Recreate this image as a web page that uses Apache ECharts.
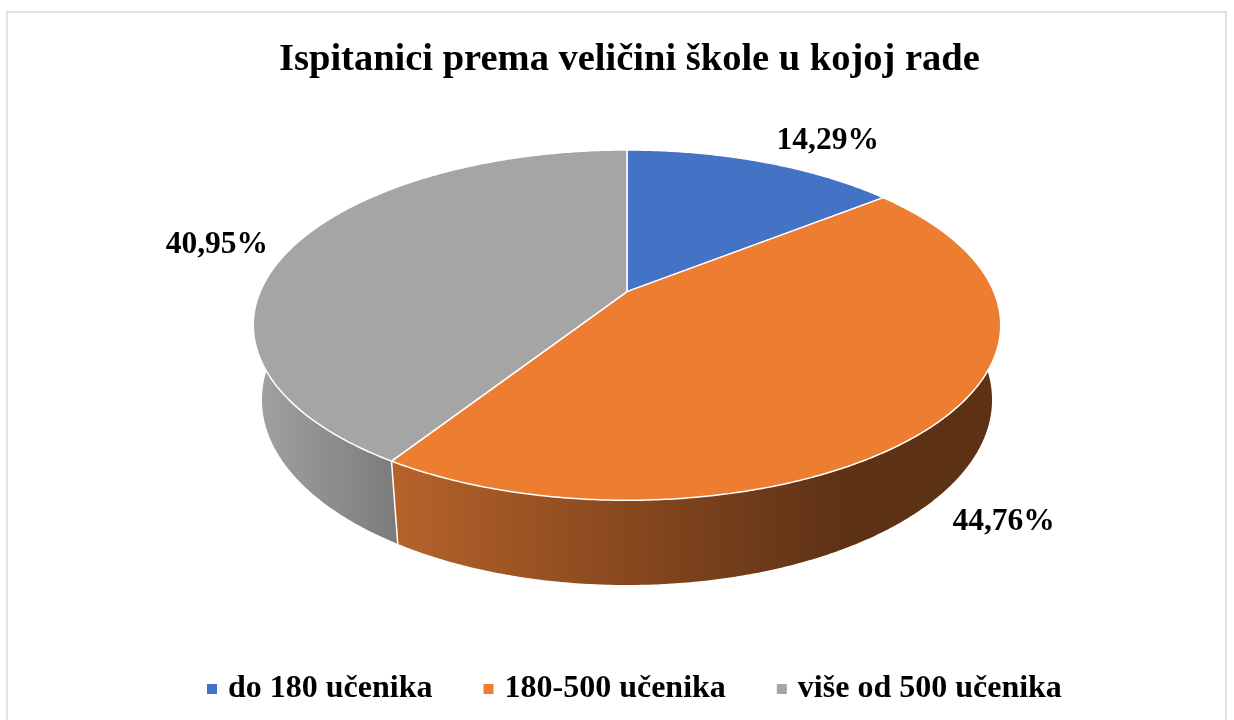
<!DOCTYPE html>
<html><head><meta charset="utf-8">
<script src="https://cdn.jsdelivr.net/npm/echarts@6/dist/echarts.min.js"></script>
<style>html,body{margin:0;padding:0;background:#fff}#main{width:1234px;height:720px}</style>
</head><body><div id="main"></div>
<script>
// ---- data ----
const categories = ['do 180 učenika', '180-500 učenika', 'više od 500 učenika'];
const values = [14.29, 44.76, 40.95];
const titleText = 'Ispitanici prema veličini škole u kojoj rade';

// ---- styles ----
const topColors = ['#4472C4', '#ED7D31', '#A5A5A5'];
const wallStops = [
  [[0,'#2f5597'],[1,'#203864']],
  [[0,'#b5622a'],[0.45,'#80441d'],[0.75,'#5e3215'],[1,'#5c3114']],
  [[0,'#a0a0a0'],[1,'#7b7b7b']]
];
const labelOffsets = [[65,-21],[64,101],[-76,-2]];
const FONT = '"Liberation Serif","Times New Roman",serif';

// perspective projection parameters (unit radius disk)
const P = {cx:627, cy:291.6, F:1702, D:4.64, s:0.46, c:0.888, H:0.231};
function proj(t, Y) {
  const u = Math.sin(t), v = Math.cos(t);
  const depth = P.D - Y*P.s + v*P.c;
  const up = Y*P.c + v*P.s;
  return [P.cx + P.F*u/depth, P.cy - P.F*up/depth];
}
const total = values.reduce((a,b)=>a+b,0);
const starts = []; (function(){let acc=0; values.forEach(v=>{starts.push(acc); acc+=v;});})();
const angleOf = x => x/total*Math.PI*2;
function arc(a0,a1,Y){
  const n = Math.max(2, Math.ceil(Math.abs(a1-a0)/(Math.PI/360)));
  const pts=[]; for(let k=0;k<=n;k++){pts.push(proj(a0+(a1-a0)*k/n, Y));}
  return pts;
}
const fmt = v => v.toFixed(2).replace('.', ',') + '%';

function wallRender(i){
  return function(params, api){
    const v = api.value(0);
    const a0 = angleOf(starts[i]), a1 = angleOf(starts[i]+v);
    const topPts = arc(a0,a1,0), botPts = arc(a0,a1,-P.H);
    let xs = [];
    const n = 200;
    for(let k=0;k<=n;k++){const t=a0+(a1-a0)*k/n; if(Math.cos(t) < -0.24) xs.push(proj(t,-P.H)[0]);}
    if(!xs.length) xs = topPts.map(p=>p[0]);
    const x0 = Math.min(...xs), x1 = Math.max(...xs);
    const grad = {type:'linear', x:x0, y:0, x2:x1, y2:0, global:true,
      colorStops: wallStops[i].map(s=>({offset:s[0], color:s[1]}))};
    const pt = proj(a0,0), pb = proj(a0,-P.H);
    return {type:'group', children:[
      {type:'polygon', shape:{points: topPts.concat(botPts.slice().reverse())}, style:{fill:grad}},
      {type:'line', shape:{x1:pt[0], y1:pt[1], x2:pb[0], y2:pb[1]}, style:{stroke:'#fff', lineWidth:1.5}}
    ]};
  };
}
function topRender(i){
  return function(params, api){
    const v = api.value(0);
    const a0 = angleOf(starts[i]), a1 = angleOf(starts[i]+v);
    const pts = [[P.cx,P.cy]].concat(arc(a0,a1,0));
    const mid = proj((a0+a1)/2, 0);
    return {type:'group', children:[
      {type:'polygon', shape:{points:pts}, style:{fill:topColors[i], stroke:'#fff', lineWidth:1.5, lineJoin:'round'}},
      {type:'text', x: mid[0]+labelOffsets[i][0], y: mid[1]+labelOffsets[i][1],
        style:{text: fmt(v), fill:'#000', fontFamily: FONT, fontWeight:'bold', fontSize:31.5,
          align:'center', verticalAlign:'middle', textAlign:'center', textVerticalAlign:'middle'}}
    ]};
  };
}

const series = [];
categories.forEach((name,i)=>series.push({type:'custom', name, coordinateSystem:'none', z:1, silent:true,
  itemStyle:{color:topColors[i]}, data:[values[i]], renderItem: wallRender(i)}));
categories.forEach((name,i)=>series.push({type:'custom', name, coordinateSystem:'none', z:2,
  itemStyle:{color:topColors[i]}, data:[values[i]], renderItem: topRender(i)}));

const chart = echarts.init(document.getElementById('main'));
chart.setOption({
  animation:false,
  backgroundColor:'#fff',
  title:{text:titleText, left:279, top:41, padding:0,
    textStyle:{fontFamily:FONT, fontWeight:'bold', fontSize:38.5, color:'#000'}},
  legend:{data:categories, top:668, left:202, icon:'rect', itemWidth:10, itemHeight:10, itemGap:51,
    selectedMode:false,
    textStyle:{fontFamily:FONT, fontWeight:'bold', fontSize:32, color:'#000', padding:[0,0,0,6]}},
  graphic:[{type:'rect', silent:true, shape:{x:7,y:12,width:1219,height:720}, style:{fill:'none', stroke:'#d9d9d9', lineWidth:1.5}}],
  series
});
</script></body></html>
